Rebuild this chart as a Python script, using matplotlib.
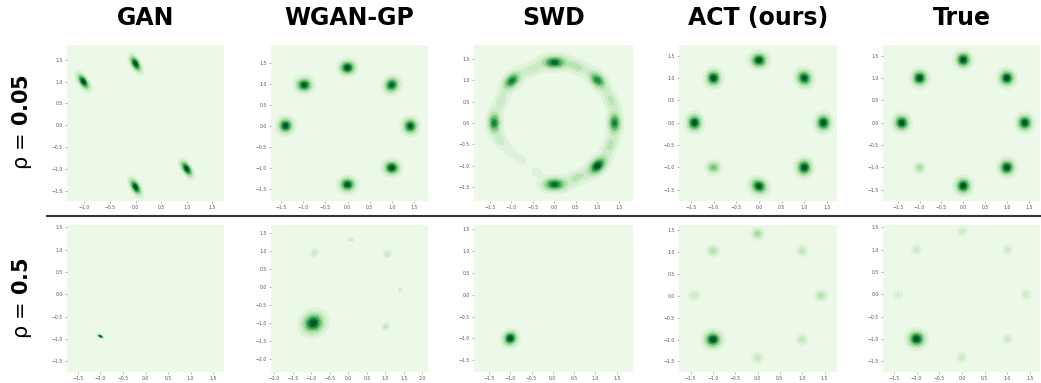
import numpy as np
import matplotlib
matplotlib.use("Agg")
import matplotlib.pyplot as plt
from matplotlib.lines import Line2D
from matplotlib.ticker import MultipleLocator

# column titles and row labels
methods = ['GAN', 'WGAN-GP', 'SWD', 'ACT (ours)', 'True']
rhos = ['0.05', '0.5']

# blobs: (x, y, scale_long, scale_short, angle_deg, weight)
gan_005 = [(-1.02, 1.00, 0.125, 0.052, -62, 1.0),
           (0.00, 1.41, 0.125, 0.052, -65, 1.0),
           (1.00, -1.00, 0.125, 0.052, -62, 1.0),
           (0.00, -1.42, 0.125, 0.052, -65, 1.0)]
wgan_005 = [(0.00, 1.38, 0.112, 0.102, 0, 1.0),
            (-0.98, 0.97, 0.115, 0.104, 0, 1.0),
            (1.00, 0.97, 0.120, 0.104, 60, 1.0),
            (-1.40, 0.00, 0.112, 0.104, 90, 1.0),
            (1.42, -0.01, 0.116, 0.104, 90, 1.0),
            (1.00, -1.00, 0.110, 0.102, 0, 1.0),
            (0.00, -1.40, 0.112, 0.104, 0, 1.0)]
act_005 = [(0.00, 1.40, 0.115, 0.104, 0, 1.0),
           (-1.00, 1.00, 0.110, 0.102, 90, 0.95),
           (1.00, 1.00, 0.118, 0.104, 120, 1.0),
           (-1.42, 0.00, 0.116, 0.102, 90, 1.0),
           (1.42, 0.00, 0.115, 0.102, 90, 1.0),
           (-1.00, -1.00, 0.110, 0.102, 0, 0.45),
           (1.00, -1.00, 0.112, 0.104, 90, 1.0),
           (0.00, -1.42, 0.120, 0.102, 150, 1.0)]
true_005 = [(0.00, 1.41, 0.107, 0.107, 0, 1.0),
            (-1.00, 1.00, 0.107, 0.107, 0, 1.0),
            (1.00, 1.00, 0.107, 0.107, 0, 1.0),
            (-1.41, 0.00, 0.107, 0.107, 0, 1.0),
            (1.41, 0.00, 0.107, 0.107, 0, 1.0),
            (-1.00, -1.00, 0.095, 0.095, 0, 0.25),
            (1.00, -1.00, 0.107, 0.107, 0, 1.0),
            (0.00, -1.41, 0.107, 0.107, 0, 1.0)]
# SWD ring pieces: (angle_deg, radius, scale_along, scale_across, weight)
swd_005_ring = [(90, 1.42, 0.18, 0.10, 1.0), (113, 1.36, 0.22, 0.12, 0.32),
                (135, 1.40, 0.16, 0.10, 0.8), (158, 1.34, 0.22, 0.12, 0.32),
                (180, 1.40, 0.16, 0.095, 0.75), (198, 1.32, 0.16, 0.11, 0.2),
                (213, 1.22, 0.14, 0.11, 0.13), (228, 1.16, 0.12, 0.10, 0.1),
                (250, 1.22, 0.11, 0.09, 0.08),
                (270, 1.44, 0.18, 0.10, 1.0), (293, 1.38, 0.22, 0.12, 0.4),
                (315, 1.42, 0.16, 0.10, 1.0), (338, 1.40, 0.22, 0.12, 0.4),
                (0, 1.40, 0.16, 0.095, 0.75), (22, 1.42, 0.22, 0.12, 0.4),
                (45, 1.42, 0.16, 0.10, 0.75), (68, 1.42, 0.22, 0.12, 0.4)]

gan_05 = [(-1.00, -0.94, 0.045, 0.013, -29, 1.0)]
wgan_05 = [(-0.95, -1.00, 0.195, 0.175, 40, 1.0),
           (-0.92, 0.95, 0.100, 0.080, 70, 0.05),
           (0.07, 1.33, 0.060, 0.045, 0, 0.018),
           (1.05, 0.92, 0.090, 0.085, 0, 0.05),
           (1.40, -0.07, 0.070, 0.050, 60, 0.018),
           (1.00, -1.10, 0.090, 0.080, 40, 0.05)]
swd_05 = [(-1.00, -1.00, 0.108, 0.098, 45, 1.0)]
act_05 = [(-1.00, -1.00, 0.118, 0.112, 0, 1.0),
          (0.00, 1.41, 0.100, 0.096, 0, 0.24),
          (-1.00, 1.02, 0.103, 0.096, 0, 0.22),
          (1.00, 1.02, 0.100, 0.096, 0, 0.18),
          (-1.42, 0.00, 0.100, 0.096, 0, 0.16),
          (1.42, 0.00, 0.103, 0.096, 0, 0.22),
          (1.00, -1.00, 0.100, 0.096, 0, 0.18),
          (0.00, -1.42, 0.100, 0.096, 0, 0.17)]
true_05 = [(-1.00, -1.00, 0.118, 0.112, 0, 1.0),
           (0.00, 1.41, 0.095, 0.095, 0, 0.13),
           (-1.00, 1.00, 0.095, 0.095, 0, 0.13),
           (1.00, 1.00, 0.095, 0.095, 0, 0.13),
           (-1.41, 0.00, 0.095, 0.095, 0, 0.11),
           (1.41, 0.00, 0.095, 0.095, 0, 0.13),
           (1.00, -1.00, 0.095, 0.095, 0, 0.13),
           (0.00, -1.41, 0.095, 0.095, 0, 0.13)]

# axis limits of each panel (xlim, ylim)
lims_005 = [((-1.34, 1.73), (-1.74, 1.84)), ((-1.73, 1.82), (-1.79, 1.92)),
            ((-1.87, 1.83), (-1.83, 1.83)), ((-1.76, 1.72), (-1.75, 1.74)),
            ((-1.84, 1.76), (-1.75, 1.74))]
lims_05 = [((-1.74, 1.74), (-1.74, 1.55)), ((-2.09, 2.15), (-2.36, 1.73)),
           ((-1.85, 1.88), (-1.77, 1.60)), ((-1.76, 1.78), (-1.74, 1.61)),
           ((-1.74, 1.72), (-1.74, 1.55))]

NU = 3.0  # student-t kernel, a bit peakier than a gaussian


def ring_to_blobs(ring):
    out = []
    for ang, r, sa, sb, w in ring:
        t = np.deg2rad(ang)
        out.append((r * np.cos(t), r * np.sin(t), sa, sb, ang + 90, w))
    return out


def density(blobs, X, Y):
    Z = np.zeros_like(X)
    for x0, y0, sa, sb, ang, w in blobs:
        t = np.deg2rad(ang)
        R = np.array([[np.cos(t), -np.sin(t)], [np.sin(t), np.cos(t)]])
        S = R @ np.diag([sa ** 2, sb ** 2]) @ R.T
        Si = np.linalg.inv(S)
        dx, dy = X - x0, Y - y0
        q = Si[0, 0] * dx * dx + 2 * Si[0, 1] * dx * dy + Si[1, 1] * dy * dy
        Z += w * (1 + q / NU) ** (-(NU / 2 + 1)) / np.sqrt(np.linalg.det(S))
    return Z


panels = [[gan_005, wgan_005, ring_to_blobs(swd_005_ring), act_005, true_005],
          [gan_05, wgan_05, swd_05, act_05, true_05]]
lims = [lims_005, lims_05]

W, H = 1041, 383
fig = plt.figure(figsize=(W / 100, H / 100), dpi=100)

xs = [(67, 224), (271, 428), (474, 633), (679, 837), (883, 1040)]
ys = [(45, 201), (225, 372)]
nlev = 13

for r in range(2):
    for c in range(5):
        x0, x1 = xs[c]
        y0, y1 = ys[r]
        ax = fig.add_axes([x0 / W, 1 - y1 / H, (x1 - x0) / W, (y1 - y0) / H])
        (xa, xb), (ya, yb) = lims[r][c]
        gx = np.linspace(xa, xb, 400)
        gy = np.linspace(ya, yb, 400)
        X, Y = np.meshgrid(gx, gy)
        Z = density(panels[r][c], X, Y)
        zmax = Z.max()
        levels = np.linspace(0, zmax, nlev + 1)
        ax.contourf(X, Y, Z, levels=levels, cmap='Greens',
                    vmin=-0.04 * zmax, vmax=zmax)
        ax.set_xlim(xa, xb)
        ax.set_ylim(ya, yb)
        ax.xaxis.set_major_locator(MultipleLocator(0.5))
        ax.yaxis.set_major_locator(MultipleLocator(0.5))
        ax.tick_params(length=1.5, width=0.5, color='#999999', labelsize=3.3,
                       labelcolor='#555555', pad=1.5)
        for s in ax.spines.values():
            s.set_visible(False)
        if r == 0:
            fig.text((x0 + x1) / 2 / W, 1 - 18 / H, methods[c], ha='center',
                     va='center', fontsize=17, fontweight='bold')

for rho, yc in zip(rhos, [122, 298]):
    fig.text(22 / W, 1 - yc / H, r'$\mathregular{\rho}$ = $\mathbf{' + rho + '}$',
             rotation=90, ha='center', va='center', fontsize=15)

fig.add_artist(Line2D([47 / W, 1.0], [1 - 216 / H, 1 - 216 / H],
                      color='#333333', lw=1.5))

fig.savefig('out.png', dpi=100)
